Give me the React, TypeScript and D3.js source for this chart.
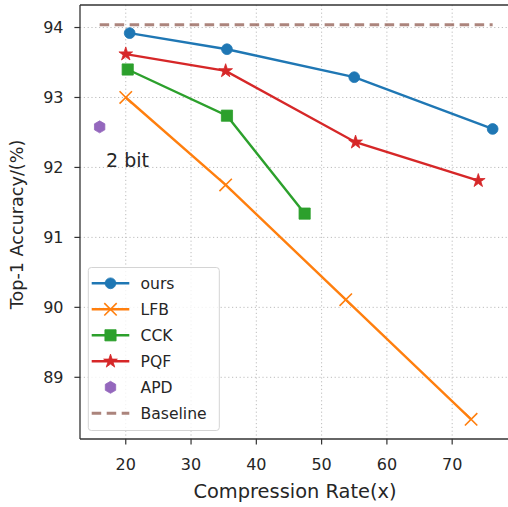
import React from "react";
import * as d3 from "d3";

// Compression rate (x) and Top-1 accuracy (%) for each method
const oursX = [20.6, 35.5, 55.0, 76.2];
const oursY = [93.92, 93.69, 93.29, 92.55];
const lfbX = [20.0, 35.3, 53.7, 72.9];
const lfbY = [93.0, 91.75, 90.11, 88.4];
const cckX = [20.3, 35.5, 47.4];
const cckY = [93.4, 92.74, 91.34];
const pqfX = [20.0, 35.3, 55.2, 74.0];
const pqfY = [93.62, 93.38, 92.36, 91.81];
const apdX = [16.0];
const apdY = [92.58];
const baselineX = [16.0, 76.2];
const baselineY = [94.04, 94.04];

const xTicks = [20, 30, 40, 50, 60, 70];
const yTicks = [89, 90, 91, 92, 93, 94];

const xLabel = "Compression Rate(x)";
const yLabel = "Top-1 Accuracy/(%)";
const annotation = "2 bit";

type Marker = "circle" | "x" | "square" | "star" | "hexagon" | "none";

interface Series {
  name: string;
  xs: number[];
  ys: number[];
  color: string;
  marker: Marker;
  line: boolean;
  dashed?: boolean;
  opacity?: number;
}

const series: Series[] = [
  { name: "ours", xs: oursX, ys: oursY, color: "#1f77b4", marker: "circle", line: true },
  { name: "LFB", xs: lfbX, ys: lfbY, color: "#ff7f0e", marker: "x", line: true },
  { name: "CCK", xs: cckX, ys: cckY, color: "#2ca02c", marker: "square", line: true },
  { name: "PQF", xs: pqfX, ys: pqfY, color: "#d62728", marker: "star", line: true },
  { name: "APD", xs: apdX, ys: apdY, color: "#9467bd", marker: "hexagon", line: false },
  { name: "Baseline", xs: baselineX, ys: baselineY, color: "#8c564b", marker: "none", line: true, dashed: true, opacity: 0.72 },
];

const FONT = "'DejaVu Sans', sans-serif";
const W = 508;
const H = 507;
const plot = { left: 80, top: 5, right: 512.3, bottom: 439 };

function padded(values: number[]): [number, number] {
  const [lo, hi] = d3.extent(values) as [number, number];
  const m = (hi - lo) * 0.05;
  return [lo - m, hi + m];
}

function markerPath(kind: Marker): string {
  if (kind === "circle") {
    const r = 5.4;
    return `M${r},0A${r},${r} 0 1,1 ${-r},0A${r},${r} 0 1,1 ${r},0Z`;
  }
  if (kind === "square") {
    const s = 5.6;
    return `M${-s},${-s}H${s}V${s}H${-s}Z`;
  }
  if (kind === "star") {
    const R = 7.2;
    const r = R * 0.381966;
    const pts: string[] = [];
    for (let i = 0; i < 10; i++) {
      const a = -Math.PI / 2 + (i * Math.PI) / 5;
      const rad = i % 2 === 0 ? R : r;
      pts.push(`${(rad * Math.cos(a)).toFixed(2)},${(rad * Math.sin(a)).toFixed(2)}`);
    }
    return `M${pts.join("L")}Z`;
  }
  if (kind === "hexagon") {
    const R = 6;
    const pts: string[] = [];
    for (let i = 0; i < 6; i++) {
      const a = -Math.PI / 2 + (i * Math.PI) / 3;
      pts.push(`${(R * Math.cos(a)).toFixed(2)},${(R * Math.sin(a)).toFixed(2)}`);
    }
    return `M${pts.join("L")}Z`;
  }
  if (kind === "x") {
    const s = 6.2;
    return `M${-s},${-s}L${s},${s}M${-s},${s}L${s},${-s}`;
  }
  return "";
}

function MarkerGlyph({ kind, color, x, y }: { kind: Marker; color: string; x: number; y: number }) {
  if (kind === "none") return null;
  const d = markerPath(kind);
  if (kind === "x") {
    return <path d={d} transform={`translate(${x},${y})`} fill="none" stroke={color} strokeWidth={1.6} />;
  }
  return <path d={d} transform={`translate(${x},${y})`} fill={color} stroke={color} strokeWidth={0.8} strokeLinejoin="miter" />;
}

export default function App() {
  const allX = series.flatMap((s) => s.xs);
  const allY = series.flatMap((s) => s.ys);
  const x = d3.scaleLinear().domain(padded(allX)).range([plot.left, plot.right]);
  const y = d3.scaleLinear().domain(padded(allY)).range([plot.bottom, plot.top]);

  const line = d3
    .line<[number, number]>()
    .x((d) => x(d[0]))
    .y((d) => y(d[1]));

  const gridColor = "#bdbdbd";
  const textColor = "#262626";
  const legend = { left: 88.3, top: 267.5, right: 219.3, bottom: 430.5, row0: 283.3, step: 26 };

  return (
    <svg
      width={W}
      height={H}
      style={{ position: "absolute", left: 0, top: 0, background: "#fff" }}
      fontFamily={FONT}
    >
      <rect x={0} y={0} width={W} height={H} fill="#fff" />
      {/* grid */}
      <g stroke={gridColor} strokeWidth={1} strokeDasharray="1.2,2.6">
        {xTicks.map((t) => (
          <line key={`gx${t}`} x1={x(t)} x2={x(t)} y1={plot.top} y2={plot.bottom} />
        ))}
        {yTicks.map((t) => (
          <line key={`gy${t}`} x1={plot.left} x2={plot.right} y1={y(t)} y2={y(t)} />
        ))}
      </g>

      {/* series */}
      {series.map((s) => {
        const pts = s.xs.map((v, i) => [v, s.ys[i]] as [number, number]);
        return (
          <g key={s.name} opacity={s.opacity ?? 1}>
            {s.line && (
              <path
                d={line(pts) ?? ""}
                fill="none"
                stroke={s.color}
                strokeWidth={s.dashed ? 3 : 2.4}
                strokeDasharray={s.dashed ? "9.5,5.5" : undefined}
              />
            )}
            {pts.map((p, i) => (
              <MarkerGlyph key={i} kind={s.marker} color={s.color} x={x(p[0])} y={y(p[1])} />
            ))}
          </g>
        );
      })}

      {/* annotation */}
      <text x={106} y={166.8} fontSize={19} fill={textColor}>
        {annotation}
      </text>

      {/* spines */}
      <g stroke="#333" strokeWidth={1.3} fill="none">
        <line x1={plot.left} x2={plot.left} y1={plot.top} y2={plot.bottom} />
        <line x1={plot.left} x2={plot.right} y1={plot.bottom} y2={plot.bottom} />
        <line x1={plot.left} x2={plot.right} y1={plot.top} y2={plot.top} />
      </g>

      {/* x axis */}
      {xTicks.map((t) => (
        <g key={`xt${t}`}>
          <line x1={x(t)} x2={x(t)} y1={plot.bottom} y2={plot.bottom + 5.6} stroke="#333" strokeWidth={1.2} />
          <text x={x(t)} y={469.8} textAnchor="middle" fontSize={16} fill={textColor}>
            {t}
          </text>
        </g>
      ))}
      {/* y axis */}
      {yTicks.map((t) => (
        <g key={`yt${t}`}>
          <line x1={plot.left - 5.6} x2={plot.left} y1={y(t)} y2={y(t)} stroke="#333" strokeWidth={1.2} />
          <text x={63.5} y={y(t)} dy="0.36em" textAnchor="end" fontSize={16} fill={textColor}>
            {t}
          </text>
        </g>
      ))}

      <text x={295} y={497.5} textAnchor="middle" fontSize={19.4} fill={textColor}>
        {xLabel}
      </text>
      <text
        transform={`translate(23.3,224.5) rotate(-90)`}
        textAnchor="middle"
        fontSize={17.6}
        fill={textColor}
      >
        {yLabel}
      </text>

      {/* legend */}
      <rect
        x={legend.left}
        y={legend.top}
        width={legend.right - legend.left}
        height={legend.bottom - legend.top}
        rx={3}
        fill="#fff"
        fillOpacity={0.8}
        stroke="#d4d4d4"
        strokeWidth={1}
      />
      {series.map((s, i) => {
        const cy = legend.row0 + i * legend.step;
        return (
          <g key={`lg${s.name}`}>
            <g opacity={s.opacity ?? 1}>
              {s.line && (
                <line
                  x1={91.7}
                  x2={129.3}
                  y1={cy}
                  y2={cy}
                  stroke={s.color}
                  strokeWidth={s.dashed ? 3 : 2.4}
                  strokeDasharray={s.dashed ? "9.5,5.5" : undefined}
                />
              )}
              <MarkerGlyph kind={s.marker} color={s.color} x={110.5} y={cy} />
            </g>
            <text x={140.5} y={cy} dy="0.36em" fontSize={15.6} fill={textColor}>
              {s.name}
            </text>
          </g>
        );
      })}
    </svg>
  );
}
